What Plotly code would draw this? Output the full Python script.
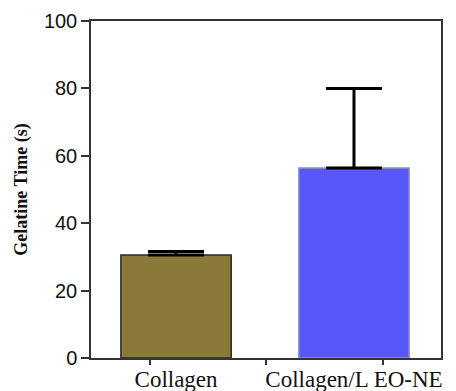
import plotly.graph_objects as go

categories = ["Collagen", "Collagen/L EO-NE"]
values = [30.6, 56.4]
errors_plus = [1.0, 23.6]
bar_colors = ["#8A7A3A", "#5858F8"]
outline_colors = ["#2a2a2a", "#8f8fc8"]
y_ticks = [0, 20, 40, 60, 80, 100]
x_pos = [0, 1]

fig = go.Figure()
fig.add_trace(go.Bar(
    x=x_pos, y=values, width=0.62,
    marker=dict(color=bar_colors, line=dict(color=outline_colors, width=1.5)),
    error_y=dict(type="data", array=errors_plus, arrayminus=[0, 0], symmetric=False,
                 color="black", thickness=3, width=28),
    showlegend=False, hoverinfo="skip",
))
# invisible trace for the secondary tick axis
fig.add_trace(go.Scatter(x=[0], y=[0], xaxis="x2", mode="markers",
                         marker=dict(opacity=0), showlegend=False, hoverinfo="skip"))

xr = [-0.478, 1.489]
# page body has an 8px default margin, so the figure is sized to compensate
fig.update_layout(
    width=448, height=383,
    margin=dict(l=83, r=15, t=13, b=33),
    paper_bgcolor="white", plot_bgcolor="white",
    xaxis=dict(range=xr, tickvals=x_pos, ticktext=categories, ticks="",
               showline=True, linecolor="#333", linewidth=1.5, mirror=True,
               showgrid=False, zeroline=False, automargin=False,
               tickfont=dict(family="Liberation Serif", size=23, color="#111")),
    xaxis2=dict(range=xr, overlaying="x", side="bottom", anchor="y",
                tickvals=[-0.146, 0.506, 1.163], ticks="outside", ticklen=6,
                tickwidth=1.5, tickcolor="#333", showticklabels=False,
                showgrid=False, zeroline=False, showline=False, automargin=False),
    yaxis=dict(range=[0, 100], tickvals=y_ticks, ticks="outside", ticklen=8,
               tickwidth=1.5, tickcolor="#333",
               showline=True, linecolor="#333", linewidth=1.5, mirror=True,
               showgrid=False, zeroline=False, automargin=False,
               tickfont=dict(family="Liberation Sans", size=20, color="#111"),
               title=dict(text="<b>Gelatine Time (s)</b>", standoff=12,
                          font=dict(family="Liberation Serif", size=18, color="#111"))),
)
fig.write_html("out.html")
